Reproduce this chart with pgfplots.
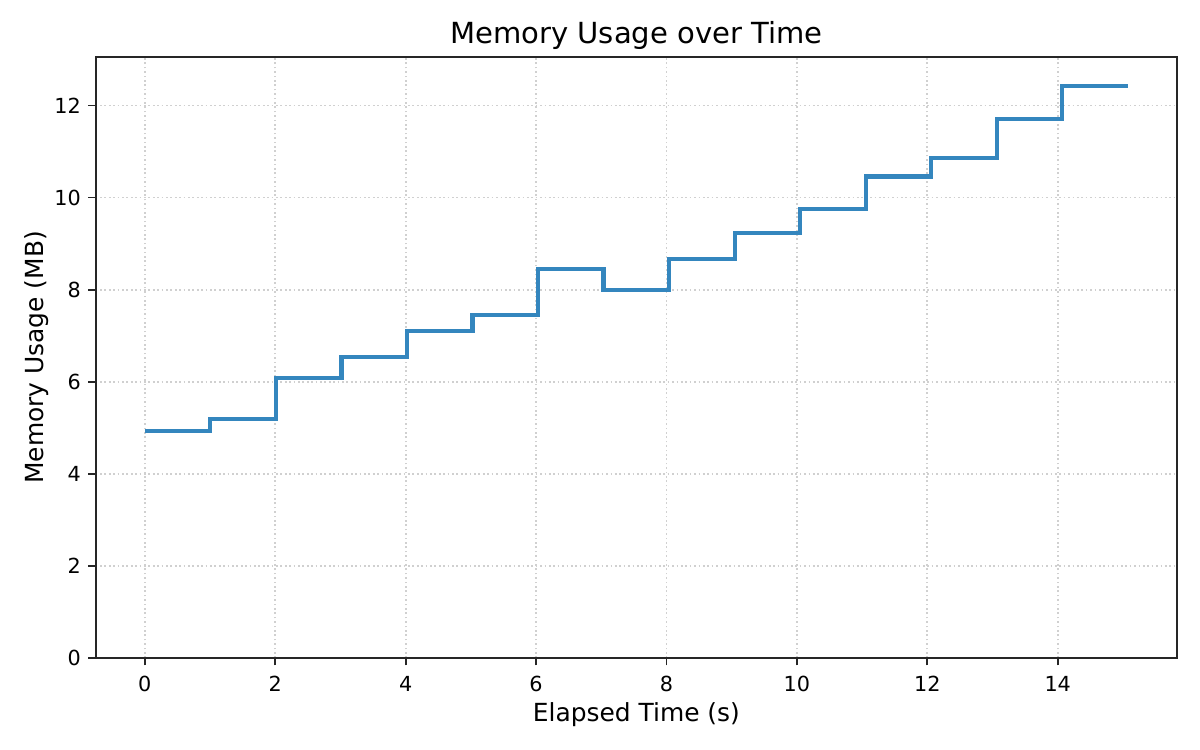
\documentclass[border=0pt]{standalone}
\usepackage{fontspec}
\setmainfont{DejaVu Sans}
\usepackage{pgfplots}
\pgfplotsset{compat=1.18}
\usepackage{pgfplotstable}
\definecolor{lineblue}{RGB}{52,134,190}
\definecolor{gridgray}{RGB}{208,208,208}
\definecolor{spine}{RGB}{38,38,38}
\pgfplotstableread{
t y
0.000 4.93
1.005 5.20
2.010 6.09
3.015 6.53
4.020 7.11
5.025 7.45
6.030 8.45
7.035 8.00
8.040 8.67
9.045 9.24
10.050 9.76
11.055 10.46
12.060 10.86
13.065 11.70
14.070 12.43
15.075 12.43
}\memdata
\begin{document}
\begin{tikzpicture}
\path[use as bounding box, fill=white] (0,0) rectangle (578.16pt,361.35pt);
\begin{axis}[
  at={(46.1pt,44.3pt)}, anchor=south west,
  scale only axis,
  width=521pt, height=289.7pt,
  xmin=-0.754, xmax=15.83,
  ymin=0, ymax=13.06,
  xtick={0,2,...,14},
  ytick={0,2,...,12},
  tick align=outside,
  major tick length=3.5pt,
  every tick/.style={spine, line width=0.8pt},
  axis line style={spine, line width=0.8pt},
  xtick pos=bottom, ytick pos=left,
  grid=major,
  major grid style={gridgray, line width=0.8pt, dash pattern=on 0.8pt off 1.32pt},
  /pgf/number format/assume math mode=true,
  tick label style={font=\fontsize{10}{12}\selectfont, text=black},
  xticklabel style={inner sep=0pt, anchor=north, yshift=-5.2pt},
  yticklabel style={inner sep=0pt, anchor=east, xshift=-3.5pt},
  xlabel={Elapsed Time (s)},
  ylabel={Memory Usage (MB)},
  label style={font=\fontsize{12}{14}\selectfont},
  xlabel style={at={(axis description cs:0.5,-0.0945)}, anchor=center},
  ylabel style={at={(axis description cs:-0.055,0.5)}, anchor=center, rotate=0},
  every axis title shift=0pt,
  title={Memory Usage over Time},
  title style={font=\fontsize{14}{17}\selectfont, at={(axis description cs:0.5,1.036)}, anchor=center},
]
\addplot[const plot mark left, lineblue, line width=2pt, no marks, line join=miter] table[x=t, y=y] {\memdata};
\end{axis}
\end{tikzpicture}
\end{document}
